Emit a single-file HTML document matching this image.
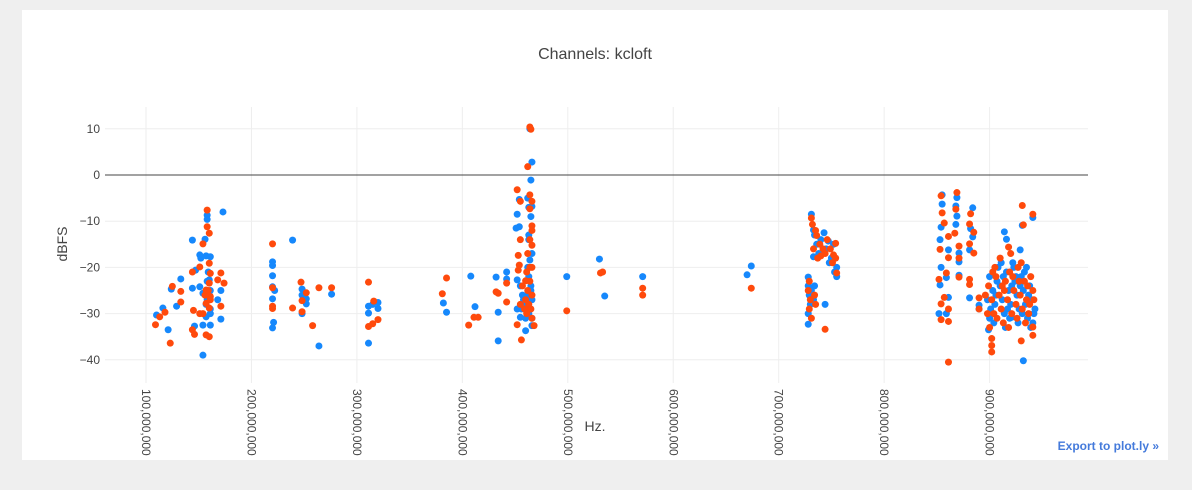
<!DOCTYPE html>
<html><head><meta charset="utf-8"><style>
body{margin:0;background:#efefef;width:1192px;height:490px;overflow:hidden;font-family:"Liberation Sans",sans-serif}
#card{position:absolute;left:22px;top:10px;width:1146px;height:450px;background:#fff}
svg{position:absolute;left:0;top:0}
</style></head><body>
<div id="card"></div>
<svg id="chart" width="1192" height="490"></svg>
<script>
const xTicks=[100,200,300,400,500,600,700,800,900];
const xTickLabels=["100,000,000","200,000,000","300,000,000","400,000,000","500,000,000","600,000,000","700,000,000","800,000,000","900,000,000"];
const yTicks=[10,0,-10,-20,-30,-40];
const yTickLabels=["10","0","−10","−20","−30","−40"];
const blueSeries=[[110,-30.3],[116,-28.8],[121,-33.5],[124,-24.7],[133,-22.5],[129,-28.4],[144,-14.1],[144,-24.5],[146,-32.7],[151,-17.3],[154,-39],[156,-13.9],[158,-8.7],[158,-9.6],[157,-17.5],[161,-17.7],[154,-32.5],[161,-29],[161,-32.5],[161,-25],[171,-25],[168,-27],[171,-31.2],[173,-8],[151,-24.2],[154,-25.6],[158,-27],[160,-22.7],[157,-30.7],[147,-20.6],[152,-18],[158,-23],[160,-26],[157,-28],[161,-30],[159,-21],
[220,-18.8],[220,-19.6],[220,-21.8],[220,-24.2],[222,-25],[220,-26.8],[221,-31.9],[220,-33.1],[239,-14.1],[248,-24.7],[248,-26],[252,-26.8],[252,-27.9],[248,-30],[264,-37],[276,-25.8],[311,-28.4],[311,-29.9],[315,-28],[320,-27.6],[320,-28.9],[311,-36.4],[382,-27.7],[385,-29.7],[408,-21.9],[412,-28.5],[432,-22.1],[434,-29.7],[434,-35.9],[442,-21],[442,-22.5],
[452,-8.5],[451,-11.5],[454,-11.2],[454,-5.3],[462,-5],[463,-13],[465,-1.1],[466,2.8],[464,10],[466,-6.8],[463,-7],[466,-17],[464,-18.4],[452,-22.7],[452,-29],[455,-30.8],[460,-33.7],[466,-32.6],[462,-20],[463,-22],[465,-24],[462,-26],[466,-27],[461,-28],[464,-29],[463,-30],[466,-31],[460,-31],[465,-25],[458,-27],[456,-29],[455,-24],[463,-14],[465,-9],[457,-26],
[499,-22],[530,-18.2],[535,-26.2],[571,-22],[674,-19.7],[670,-21.6],
[728,-32.3],[728,-22.1],[734,-24],[744,-28],[728,-24],[729,-26],[730,-28],[728,-30],[731,-25],[733,-27],
[731,-8.5],[733,-11.9],[743,-12.5],[747,-14.3],[733,-17.7],[755,-22],[755,-20],[736,-15],[738,-17],[740,-14],[745,-16],[750,-18],[752,-15],[734,-13],[748,-19],[753,-21],
[855,-4.3],[855,-6.3],[854,-11.3],[853,-14],[861,-16.2],[854,-20],[853,-23.8],[859,-22.2],[861,-26.5],[852,-30],[859,-30],
[869,-4.9],[868,-6.7],[869,-8.9],[868,-10.7],[871,-16.9],[871,-18.8],[871,-21.7],[884,-7.1],[882,-11.6],[884,-13.4],[881,-16.2],[881,-26.6],[890,-28.2],[890,-29],
[932,-40.2],[941,-9.2],[931,-10.9],[914,-12.3],[916,-13.9],[929,-16.2],[921,-30.8],[899,-33.5],
[900,-22],[903,-25],[905,-28],[908,-20],[910,-24],[912,-27],[914,-30],[916,-21],[918,-25],[920,-28],[922,-19],[924,-23],[926,-26],[928,-29],[930,-22],[932,-25],[934,-28],[936,-31],[938,-24],[940,-27],[942,-30],[900,-31],[904,-32],[907,-23],[911,-19],[915,-33],[919,-31],[923,-20],[927,-32],[931,-30],[935,-20],[939,-33],[898,-27],[901,-29],[906,-26],[913,-22],[917,-29],[921,-24],[925,-22],[929,-24],[933,-21],[937,-26],[941,-32],[943,-29]];
const redSeries=[[109,-32.4],[113,-30.7],[118,-29.7],[123,-36.4],[125,-24.1],[133,-25.2],[133,-27.5],[144,-21],[145,-29.3],[144,-33.5],[146,-34.5],[151,-19.9],[151,-30],[154,-14.9],[158,-7.6],[158,-11.2],[160,-12.6],[160,-19.1],[161,-21.3],[160,-23.4],[157,-24.9],[161,-26.3],[157,-27.8],[160,-28.8],[154,-30],[157,-34.6],[160,-35],[171,-21.2],[168,-22.7],[174,-23.4],[171,-28.4],[159,-25],[156,-26],[161,-27],
[220,-14.9],[220,-24.4],[220,-28.4],[220,-28.9],[239,-28.8],[247,-23.2],[252,-25.5],[248,-27.2],[248,-29.6],[258,-32.6],[264,-24.4],[276,-24.4],[311,-23.2],[311,-32.8],[315,-32.2],[320,-31.3],[316,-27.3],[381,-25.7],[385,-22.3],[406,-32.5],[411,-30.8],[415,-30.8],[432,-25.3],[434,-25.6],[442,-23.4],[442,-27.5],
[452,-3.2],[455,-5.7],[462,1.8],[464,10.4],[465,9.9],[464,-4.3],[466,-5.7],[464,-7.3],[466,-11],[455,-14],[464,-14],[466,-15.2],[453,-17.4],[454,-19.5],[453,-20.6],[460,-22.9],[466,-20],[456,-35.7],[452,-32.4],[468,-32.6],[461,-21],[464,-23],[462,-25],[466,-26],[460,-27],[463,-28],[465,-29],[461,-30],[466,-31],[459,-29],[457,-24],[455,-28],[464,-20],[462,-17],[466,-12],
[499,-29.4],[531,-21.2],[533,-21],[571,-24.5],[571,-26],[674,-24.5],
[744,-33.4],[729,-23],[728,-25],[730,-27],[729,-29],[731,-31],[734,-26],[735,-28],
[731,-9.3],[732,-10.7],[736,-13.1],[742,-16],[754,-14.8],[752,-17.3],[755,-21.2],[740,-17.5],[735,-12],[739,-15],[744,-17],[746,-14],[749,-16],[751,-19],[754,-18],[733,-16],[737,-18],
[854,-4.5],[855,-8.2],[857,-10.4],[861,-13.3],[853,-16.1],[861,-17.9],[859,-21.2],[852,-22.6],[857,-26.5],[854,-27.9],[861,-29],[854,-31.3],[861,-31.7],[861,-40.5],
[869,-3.8],[868,-7.4],[867,-12.6],[871,-15.4],[871,-18],[871,-22.1],[882,-8.4],[881,-10.6],[885,-12.4],[881,-14.9],[885,-16.9],[881,-22.6],[881,-23.7],[890,-26.6],[890,-29],
[902,-38.3],[902,-36.9],[902,-35.4],[931,-6.6],[941,-8.5],[932,-10.8],[918,-15.6],[930,-35.9],[941,-34.7],[941,-32.9],
[899,-24],[902,-27],[904,-30],[906,-22],[909,-26],[911,-29],[913,-32],[915,-23],[917,-27],[919,-21],[921,-30],[923,-25],[925,-28],[927,-20],[929,-26],[931,-29],[933,-23],[935,-27],[937,-30],[939,-22],[941,-25],[898,-30],[900,-33],[903,-21],[907,-31],[910,-18],[914,-25],[918,-33],[922,-22],[926,-31],[930,-19],[934,-32],[938,-28],[942,-27],[896,-26],[905,-20],[912,-24],[920,-17],[928,-23],[936,-24]];

const NS="http://www.w3.org/2000/svg";
const svg=document.getElementById('chart');
const L=105,R=1088,T=107,B=383;
function xScale(v){return 146+(v-100)*1.0545;}
function yScale(v){return 175-v*4.62;}
function mk(tag,attrs,parent){const e=document.createElementNS(NS,tag);for(const k in attrs)e.setAttribute(k,attrs[k]);(parent||svg).appendChild(e);return e;}

const grid=mk('g',{});


xTicks.forEach((t,i)=>{
  const l=mk('line',{x1:xScale(t),x2:xScale(t),y1:T,y2:B,stroke:'#eeeeee','stroke-width':1},grid);
  
  
  const x=xScale(t);
  const tx=mk('text',{x:0,y:0,transform:`translate(${x-4},389) rotate(90)`,'font-size':12,fill:'#444','font-family':'Liberation Sans, sans-serif'});
  tx.textContent=xTickLabels[i];
  
  
});
yTicks.forEach((t,i)=>{
  const y=yScale(t);
  if(t!==0){const l=mk('line',{x1:L,x2:R,y1:y,y2:y,stroke:'#eeeeee','stroke-width':1},grid);
  
  }
  const tx=mk('text',{x:100,y:y+4,'text-anchor':'end','font-size':12,fill:'#444','font-family':'Liberation Sans, sans-serif'});
  tx.textContent=yTickLabels[i];
  
  
});
const zl=mk('line',{x1:L,x2:R,y1:yScale(0),y2:yScale(0),stroke:'#444','stroke-width':1});



function drawSeries(data,color,name){
  const g=mk('g',{});
  
  
  data.forEach(d=>{
    const c=mk('circle',{cx:xScale(d[0]),cy:yScale(d[1]),r:3.5,fill:color},g);
    
    
  });
}
drawSeries(blueSeries,'#1688fc','series-blue');
drawSeries(redSeries,'#ff4a0c','series-red');

const title=mk('text',{x:595,y:59,'text-anchor':'middle','font-size':16,fill:'#444','font-family':'Liberation Sans, sans-serif'});
title.textContent='Channels: kcloft';


const xt=mk('text',{x:595,y:431,'text-anchor':'middle','font-size':14,fill:'#444','font-family':'Liberation Sans, sans-serif'});
xt.textContent='Hz.';


const yt=mk('text',{x:0,y:0,transform:'translate(67,244) rotate(-90)','text-anchor':'middle','font-size':14,fill:'#444','font-family':'Liberation Sans, sans-serif'});
yt.textContent='dBFS';


const ex=mk('text',{x:1159,y:450,'text-anchor':'end','font-size':12,'font-weight':'bold',fill:'#447adb','font-family':'Liberation Sans, sans-serif'});
ex.textContent='Export to plot.ly »';


</script>
</body></html>
